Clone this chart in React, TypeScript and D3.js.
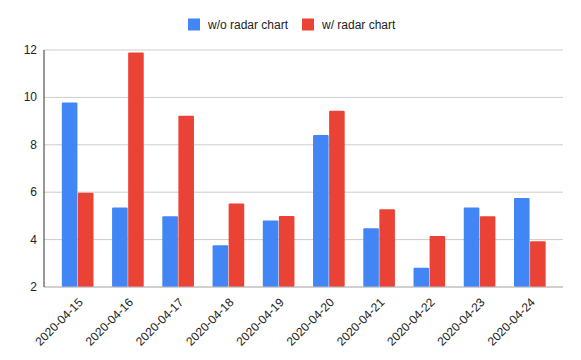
import React, { useEffect, useRef } from "react";
import * as d3 from "d3";

const dates = [
  "2020-04-15", "2020-04-16", "2020-04-17", "2020-04-18", "2020-04-19",
  "2020-04-20", "2020-04-21", "2020-04-22", "2020-04-23", "2020-04-24",
];
const withoutRadar = [9.78, 5.35, 4.98, 3.76, 4.81, 8.41, 4.48, 2.81, 5.35, 5.76];
const withRadar = [5.98, 11.89, 9.23, 5.52, 5.0, 9.44, 5.28, 4.15, 4.98, 3.93];
const seriesNames = ["w/o radar chart", "w/ radar chart"];
const colors = ["#4285F4", "#EA4335"];
const yTicks = [2, 4, 6, 8, 10, 12];

export default function App() {
  const ref = useRef<SVGSVGElement>(null);

  useEffect(() => {
    const width = 581;
    const height = 360;
    const svg = d3.select(ref.current);
    svg.selectAll("*").remove();
    const font = "Arial, 'Liberation Sans', sans-serif";

    // plot area
    const left = 44;
    const right = 563;
    const top = 50;
    const bottom = 287;

    const y = d3.scaleLinear().domain([2, 12]).range([bottom, top]);
    const x = d3.scaleBand().domain(dates).range([52.8, 554.7]).paddingInner(0.37).paddingOuter(0.18);
    const x1 = d3.scaleBand().domain(seriesNames).range([0, x.bandwidth()]).paddingInner(0.03);

    // gridlines
    svg
      .selectAll("line.grid")
      .data(yTicks)
      .enter()
      .append("line")
      .attr("x1", left)
      .attr("x2", right)
      .attr("y1", (d) => y(d))
      .attr("y2", (d) => y(d))
      .attr("stroke", "#cccccc")
      .attr("stroke-width", 1);

    // y labels
    svg
      .selectAll("text.ylab")
      .data(yTicks)
      .enter()
      .append("text")
      .attr("x", 37)
      .attr("y", (d) => y(d) + 4)
      .attr("text-anchor", "end")
      .style("font-family", font)
      .style("font-size", "12px")
      .attr("fill", "#222")
      .text((d) => d);

    // bars
    const series = [withoutRadar, withRadar];
    series.forEach((vals, si) => {
      svg
        .append("g")
        .selectAll("rect")
        .data(vals)
        .enter()
        .append("rect")
        .attr("x", (_d, i) => (x(dates[i]) as number) + (x1(seriesNames[si]) as number))
        .attr("y", (d) => y(d))
        .attr("width", x1.bandwidth())
        .attr("height", (d) => bottom - y(d))
        .attr("rx", 1)
        .attr("fill", colors[si]);
    });

    // baseline and left axis
    svg
      .append("line")
      .attr("x1", left)
      .attr("x2", right)
      .attr("y1", bottom)
      .attr("y2", bottom)
      .attr("stroke", "#bbbbbb");
    svg
      .append("line")
      .attr("x1", left)
      .attr("x2", left)
      .attr("y1", top)
      .attr("y2", bottom)
      .attr("stroke", "#333333")
      .attr("stroke-width", 1);

    // x labels
    svg
      .selectAll("text.xlab")
      .data(dates)
      .enter()
      .append("text")
      .attr("transform", (d) => {
        const cx = (x(d) as number) + x.bandwidth() / 2 + 6;
        return "translate(" + cx + ",303) rotate(-45)";
      })
      .attr("text-anchor", "end")
      .style("font-family", font)
      .style("font-size", "12px")
      .attr("fill", "#222")
      .text((d) => d);

    // legend
    const legendX = [188, 302];
    seriesNames.forEach((name, i) => {
      svg
        .append("rect")
        .attr("x", legendX[i])
        .attr("y", 18.5)
        .attr("width", 12)
        .attr("height", 12)
        .attr("fill", colors[i]);
      svg
        .append("text")
        .attr("x", legendX[i] + 20)
        .attr("y", 29)
        .style("font-family", font)
        .style("font-size", "12px")
        .attr("fill", "#222")
        .text(name);
    });

    svg.attr("width", width).attr("height", height);
  }, []);

  return (
    <div style={{ position: "fixed", left: 0, top: 0, background: "#fff" }}>
      <svg ref={ref} width={581} height={360} style={{ display: "block" }} />
    </div>
  );
}
